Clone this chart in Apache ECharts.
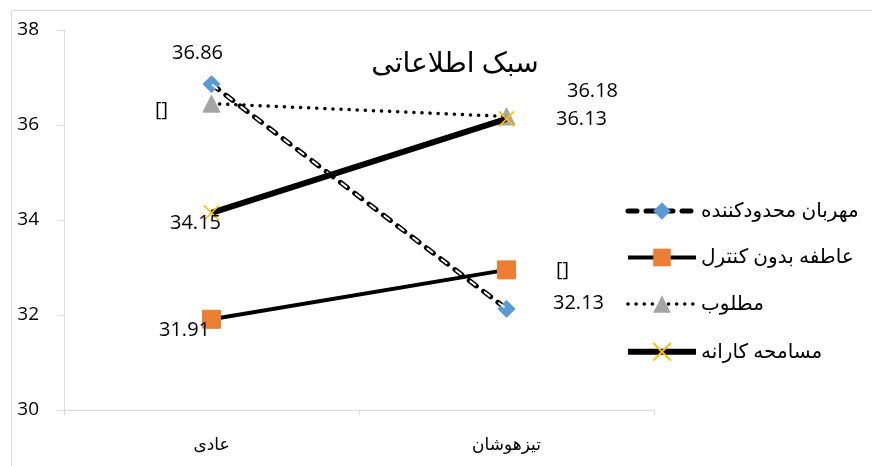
<!DOCTYPE html>
<html><head><meta charset="utf-8">
<script src="https://cdn.jsdelivr.net/npm/echarts@6/dist/echarts.min.js"></script>
<style>html,body{margin:0;padding:0;background:#fff}#c{width:872px;height:466px}</style>
</head><body><div id="c"></div>
<script>
const categories = ['عادی', 'تیزهوشان'];
const seriesNames = ['مهربان محدودکننده', 'عاطفه بدون کنترل', 'مطلوب', 'مسامحه کارانه'];
const valuesRestrictive = [36.86, 32.13];
const valuesUncontrolled = [31.91, 32.95];
const valuesDesired = [36.45, 36.18];
const valuesPermissive = [34.15, 36.13];
const labelsRestrictive = ['36.86', '32.13'];
const labelsUncontrolled = ['31.91', '[]'];
const labelsDesired = ['[]', '36.18'];
const labelsPermissive = ['34.15', '36.13'];
const yTicks = [30, 32, 34, 36, 38];

const FONT = "'Open Sans', 'DejaVu Sans', sans-serif";

function mk(values, labels, offsets) {
  return values.map((v, i) => ({
    value: v,
    label: {
      show: true, position: 'inside', offset: offsets[i],
      formatter: labels[i], color: '#000', fontSize: 20, fontFamily: FONT,
      align: 'center', verticalAlign: 'middle', textBorderWidth: 0
    }
  }));
}

const dashOuter = { color: '#000', width: 5, type: [9, 9], cap: 'round' };
const solid2 = { color: '#000', width: 4 };
const dotted3 = { color: '#000', width: 3.5, type: [0.1, 8], cap: 'round' };
const solid4 = { color: '#000', width: 6 };

const chart = echarts.init(document.getElementById('c'));
chart.setOption({
  animation: false,
  backgroundColor: '#fff',
  title: {
    text: 'سبک اطلاعاتی', left: 450, top: 45, textAlign: 'center',
    textStyle: { fontSize: 28, fontWeight: 'normal', color: '#000', fontFamily: FONT }
  },
  graphic: [{
    type: 'rect', shape: { x: 11.5, y: 10.5, width: 870, height: 460 },
    style: { fill: 'none', stroke: '#d9d9d9', lineWidth: 1 }, silent: true
  }],
  legend: {
    orient: 'vertical', left: 620, top: 196,
    itemWidth: 68, itemHeight: 22, itemGap: 26.5,
    data: [
      { name: seriesNames[0], lineStyle: dashOuter },
      { name: seriesNames[1], lineStyle: solid2 },
      { name: seriesNames[2], lineStyle: dotted3 },
      { name: seriesNames[3], lineStyle: solid4 }
    ],
    textStyle: { fontSize: 20, color: '#000', fontFamily: FONT }
  },
  grid: { left: 64, right: 218, top: 30, bottom: 56 },
  xAxis: {
    type: 'category', data: categories, boundaryGap: true,
    axisLine: { lineStyle: { color: '#d9d9d9', width: 1 } },
    axisTick: { show: true, length: 5, lineStyle: { color: '#d9d9d9' } },
    axisLabel: { fontSize: 17, color: '#000', margin: 27, fontFamily: FONT }
  },
  yAxis: {
    type: 'value', min: yTicks[0], max: yTicks[yTicks.length - 1], interval: 2,
    axisLine: { show: true, lineStyle: { color: '#d9d9d9', width: 1 } },
    axisTick: { show: true, length: 7, lineStyle: { color: '#d9d9d9' } },
    splitLine: { show: false },
    axisLabel: { fontSize: 19, color: '#000', margin: 25, fontFamily: FONT }
  },
  series: [
    {
      name: seriesNames[0], type: 'line', z: 3,
      data: mk(valuesRestrictive, labelsRestrictive, [[-14, -31], [72, -6]]),
      symbol: 'diamond', symbolSize: 17,
      itemStyle: { color: '#5B9BD5', borderColor: '#5B9BD5' },
      lineStyle: dashOuter
    },
    {
      name: seriesNames[0] + ' ', type: 'line', z: 4, silent: true,
      data: valuesRestrictive, symbol: 'none',
      lineStyle: { color: '#fff', width: 2, type: [6, 12], dashOffset: -1.5, cap: 'round' }
    },
    {
      name: seriesNames[1], type: 'line', z: 5,
      data: mk(valuesUncontrolled, labelsUncontrolled, [[-27, 11], [56, 0]]),
      symbol: 'rect', symbolSize: 18,
      itemStyle: { color: '#ED7D31', borderColor: '#ED7D31' },
      lineStyle: solid2
    },
    {
      name: seriesNames[2], type: 'line', z: 5,
      data: mk(valuesDesired, labelsDesired, [[-50, 7], [86, -25]]),
      symbol: 'triangle', symbolSize: 17,
      itemStyle: { color: '#A5A5A5', borderColor: '#A5A5A5' },
      lineStyle: dotted3
    },
    {
      name: seriesNames[3], type: 'line', z: 6,
      data: mk(valuesPermissive, labelsPermissive, [[-16, 10], [75, 0]]),
      symbol: 'path://M0,0L10,10M10,0L0,10', symbolSize: 15,
      itemStyle: { color: 'none', borderColor: '#FFC000', borderWidth: 1.6 },
      lineStyle: solid4
    }
  ]
});
</script></body></html>
